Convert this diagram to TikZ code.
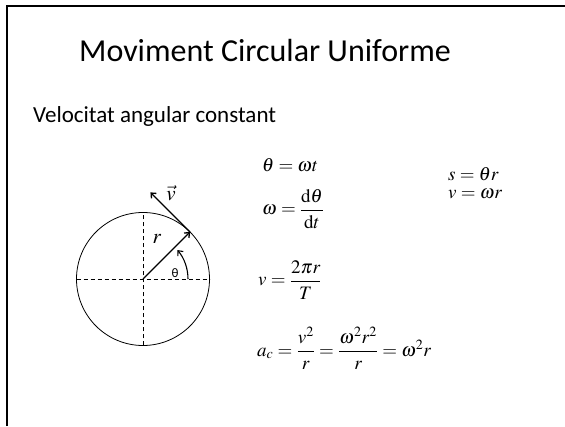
\documentclass[tikz,border=0pt]{standalone}
\usepackage{amsmath}
\usepackage{mathptmx}
\usepackage{fontspec}
\setmainfont{Carlito}
\usetikzlibrary{arrows.meta,calc}

\tikzset{
  eq/.style={anchor=base west,inner sep=0pt,font=\fontsize{19}{22}\selectfont},
  vec/.style={line width=1.3pt,->}
}

\begin{document}
\begin{tikzpicture}[x=1pt,y=1pt,>={Straight Barb[length=4pt,width=7pt]}]
  \useasboundingbox (0,0) rectangle (565,426);
  \draw[line width=2pt] (7,0) -- (7,420) -- (565,420);
  \node[anchor=base,font=\fontsize{32}{38}\selectfont] (title) at (265,364) {Moviment Circular Uniforme};
  \node[anchor=base west,inner sep=0pt,font=\fontsize{23}{28}\selectfont] (sub) at (33,303) {Velocitat angular constant};

  \coordinate (O) at (143,147);
  \draw[line width=0.8pt] (O) circle (66.5);
  \draw[dashed,dash pattern=on 4pt off 3pt] ($(O)+(-66.5,0)$) -- ($(O)+(66.5,0)$);
  \draw[dashed,dash pattern=on 4pt off 3pt] ($(O)+(0,-66.5)$) -- ($(O)+(0,66.5)$);
  \coordinate (P) at ($(O)+(45:66.5)$);
  \coordinate (V) at ($(P)+(135:56)$);
  \draw[vec] (O) -- (P);
  \draw[vec] (P) -- (V);
  \draw[line width=1.1pt,->] ($(O)+(45,0)$) arc (0:40:45);
  \node[font=\fontsize{13}{15}\selectfont] (th) at (175,153) {θ};
  \node[font=\fontsize{21}{24}\selectfont] (r) at (157,187) {$r$};
  \node[font=\fontsize{21}{24}\selectfont] (v) at (171,233) {$\vec{v}$};

  \node[eq] (e1) at (262,254) {$\theta=\omega t$};
  \node[eq] (e2) at (262,211) {$\omega=\dfrac{\mathrm{d}\theta}{\mathrm{d}t}$};
  \node[eq] (e3) at (448,245) {$s=\theta r$};
  \node[eq] (e4) at (448,227) {$v=\omega r$};
  \node[eq] (e5) at (258,140) {$v=\dfrac{2\pi r}{T}$};
  \node[eq] (e6) at (257,70) {$a_c=\dfrac{v^2}{r}=\dfrac{\omega^2r^2}{r}=\omega^2r$};
\end{tikzpicture}
\end{document}
